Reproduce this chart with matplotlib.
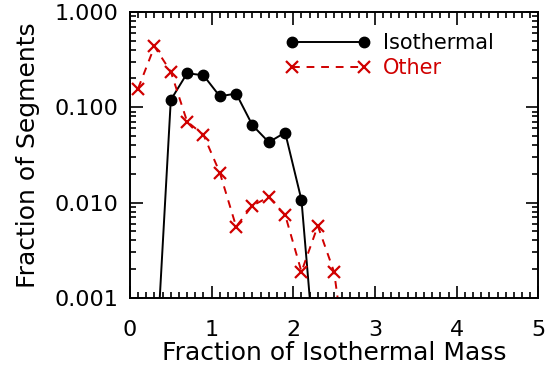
import matplotlib
matplotlib.use('Agg')
import matplotlib.pyplot as plt
from matplotlib.ticker import MultipleLocator, LogLocator, FixedLocator, NullFormatter

# bin centres (fraction of isothermal mass); empty bins shown at 1e-4 (below axis)
iso_x = [0.3, 0.5, 0.7, 0.9, 1.1, 1.3, 1.5, 1.7, 1.9, 2.1, 2.3]
iso_y = [1e-4, 0.119, 0.227, 0.216, 0.130, 0.139, 0.0646, 0.0429, 0.0542, 0.0106, 1e-4]

other_x = [0.1, 0.3, 0.5, 0.7, 0.9, 1.1, 1.3, 1.5, 1.7, 1.9, 2.1, 2.3, 2.5, 2.7]
other_y = [0.157, 0.433, 0.236, 0.0706, 0.0513, 0.0206, 0.00559, 0.00929,
           0.0114, 0.00741, 0.00188, 0.00569, 0.00186, 1e-4]

y_ticks = [0.001, 0.01, 0.1, 1.0]
y_labels = ['0.001', '0.010', '0.100', '1.000']

red = '#d00000'
plt.rcParams['font.family'] = 'DejaVu Sans'

fig = plt.figure(figsize=(5.46, 3.70), dpi=100)
ax = fig.add_axes([0.238, 0.195, 0.748, 0.773])

ax.plot(iso_x, iso_y, '-', color='black', lw=1.4, marker='o', ms=7.5,
        label='Isothermal')
ax.plot(other_x, other_y, '--', color=red, lw=1.4, marker='x', ms=9,
        mew=1.6, dashes=(4, 3.5), label='Other')

ax.set_yscale('log')
ax.set_xlim(0, 5)
ax.set_ylim(0.001, 1.0)

ax.xaxis.set_major_locator(MultipleLocator(1))
ax.xaxis.set_minor_locator(MultipleLocator(0.1))
ax.yaxis.set_major_locator(FixedLocator(y_ticks))
ax.set_yticklabels(y_labels)
ax.yaxis.set_minor_locator(LogLocator(base=10, subs=range(2, 10)))
ax.yaxis.set_minor_formatter(NullFormatter())

ax.tick_params(which='both', direction='in', top=True, right=True,
               labelsize=16, width=1.2)
ax.tick_params(axis='y', pad=8)
ax.tick_params(axis='x', pad=16)
ax.tick_params(which='major', length=9)
ax.tick_params(which='minor', length=4)
for s in ax.spines.values():
    s.set_linewidth(1.4)

ax.set_xlabel('Fraction of Isothermal Mass', fontsize=18, labelpad=1)
ax.set_ylabel('Fraction of Segments', fontsize=18, labelpad=11)

leg = ax.legend(loc='upper left', bbox_to_anchor=(0.36, 0.955), frameon=False,
                numpoints=2, fontsize=15, handlelength=4.1, handletextpad=0.6,
                labelspacing=0.25, borderaxespad=0)
leg.get_texts()[1].set_color(red)

plt.savefig('out.png', dpi=100)
plt.close(fig)
